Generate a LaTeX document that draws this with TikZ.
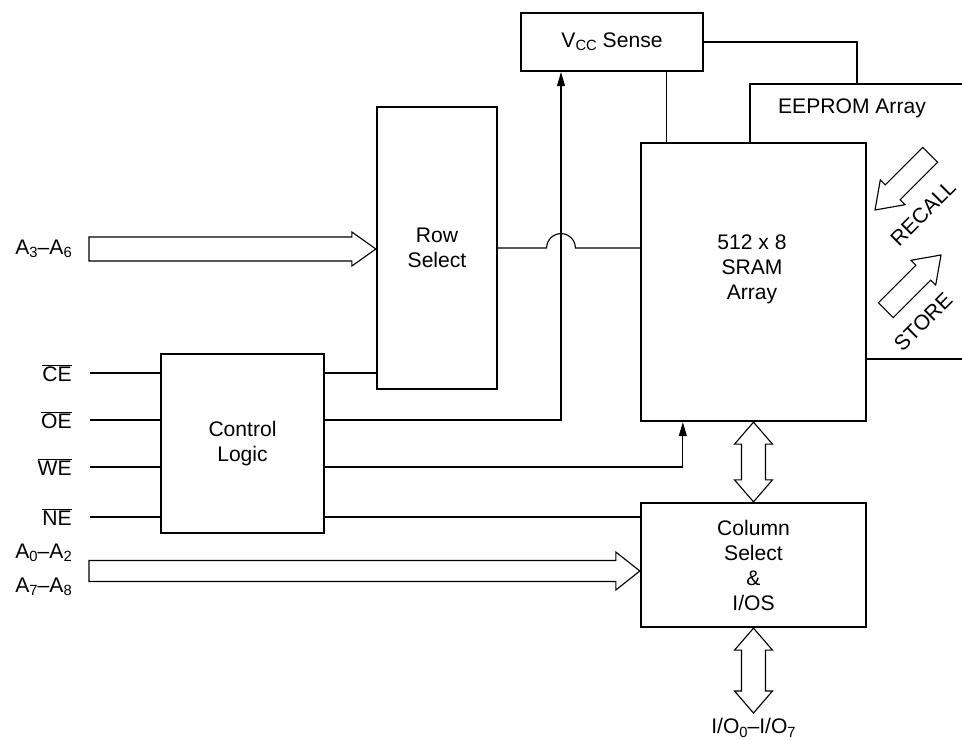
\documentclass[tikz,border=0pt]{standalone}
\usepackage{fontspec}
\setmainfont{Liberation Sans}
\usetikzlibrary{arrows.meta,positioning,calc}

\tikzset{
  every node/.style={font=\fontsize{15}{17.8}\selectfont},
  block/.style={rectangle,draw,line width=1.6pt,align=center},
  txt/.style={align=center,inner sep=0pt},
  pin/.style={anchor=east,inner sep=0pt},
  sig/.style={line width=0.8pt},
  sigarrow/.style={sig,-{Triangle[length=0.35cm,width=0.2cm]}},
  bus/.style={line width=0.8pt,fill=white,line join=miter},
  edge/.style={line width=1.6pt},
}

% subscript as set in the data sheet
\newcommand{\lo}[1]{\raisebox{-2.4pt}{\fontsize{10.5}{10.5}\selectfont #1}}
% hollow bus arrow to the right: start, tip, shaft half width, head half width
\newcommand{\hbus}[4]{%
  \draw[bus] ($(#1)+(0,-#3)$) -- ($(#2)+(-24,-#3)$) -- ($(#2)+(-24,-#4)$) -- (#2)
    -- ($(#2)+(-24,#4)$) -- ($(#2)+(-24,#3)$) -- ($(#1)+(0,#3)$) -- cycle;}
% hollow double headed bus arrow, top tip and bottom tip
\newcommand{\vbus}[2]{%
  \draw[bus] (#1) -- ($(#1)+(19,22)$) -- ($(#1)+(12,22)$) -- ($(#2)+(12,-22)$) -- ($(#2)+(19,-22)$) -- (#2)
    -- ($(#2)+(-19,-22)$) -- ($(#2)+(-12,-22)$) -- ($(#1)+(-12,22)$) -- ($(#1)+(-19,22)$) -- cycle;}
% hollow slanted arrow: tip, direction
\newcommand{\diagbus}[2]{%
  \draw[bus,shift={(#1)},rotate=#2] (0,0) -- (-25,17.5) -- (-25,10.5) -- (-78,10.5)
    -- (-78,-10.5) -- (-25,-10.5) -- (-25,-17.5) -- cycle;}

\begin{document}
\begin{tikzpicture}[x=0.025cm,y=-0.025cm]
    \useasboundingbox (0,0) rectangle (962,739);

    % Blocks
    \node[block,minimum width=4.55cm,minimum height=1.45cm] (vcc) at (612,42) {V\lo{CC} Sense};
    \node[block,minimum width=5.625cm,minimum height=6.95cm] (sram) at (753.5,282) {};
    \node[txt] (sramtext) at (752,269) {512 x 8\\SRAM\\Array};
    \node[block,minimum width=3cm,minimum height=7.05cm] (rowsel) at (437,248) {Row\\Select};
    \node[block,minimum width=4.075cm,minimum height=4.475cm] (ctrl) at (242.5,443.5) {Control\\Logic};
    \node[block,minimum width=5.625cm,minimum height=3.1cm] (colsel) at (753.5,565) {Column\\Select\\\&\\I/OS};

    % EEPROM array
    \coordinate (eetl) at (750,84);
    \coordinate (eetr) at (962,84);
    \coordinate (eebr) at (962,359);
    \draw[edge] (eetl |- sram.north) -- (eetl) -- (eetr);
    \draw[edge] (sram.east |- eebr) -- (eebr);
    \node[txt] (eetext) at (852,108) {EEPROM Array};

    % Store / recall
    \diagbus{875,210}{225}
    \diagbus{941,255}{45}
    \node[txt,rotate=45] (recall) at (923,213) {RECALL};
    \node[txt,rotate=45] (store) at (923,322) {STORE};

    % Pins
    \node[pin] (a36) at (72,249) {A\lo{3}--A\lo{6}};
    \node[pin] (ce) at (72,373) {$\overline{\mbox{CE}}$};
    \node[pin] (oe) at (72,420) {$\overline{\mbox{OE}}$};
    \node[pin] (we) at (72,467) {$\overline{\mbox{WE}}$};
    \node[pin] (ne) at (72,517) {$\overline{\mbox{NE}}$};
    \node[pin] (a02) at (72,553) {A\lo{0}--A\lo{2}};
    \node[pin] (a78) at (72,587) {A\lo{7}--A\lo{8}};
    \node[txt] (io) at (753.5,728) {I/O\lo{0}--I/O\lo{7}};

    % Control inputs
    \draw[sig] ($(ce.east)+(18,0)$) -- (ctrl.west |- ce.east);
    \draw[sig] ($(oe.east)+(18,0)$) -- (ctrl.west |- oe.east);
    \draw[sig] ($(we.east)+(18,0)$) -- (ctrl.west |- we.east);
    \draw[sig] ($(ne.east)+(18,0)$) -- (ctrl.west |- ne.east);

    % Control outputs
    \coordinate (hop) at (561,248);
    \draw[sig] (ctrl.east |- ce.east) -- (rowsel.west |- ce.east);
    \draw[sigarrow] (ctrl.east |- oe.east) -| (hop |- vcc.south);
    \draw[sigarrow] (ctrl.east |- we.east) -| ($(sram.south west)+(43,0)$);
    \draw[sig] (ctrl.east |- ne.east) -- (colsel.west |- ne.east);

    % Row select to SRAM, hopping over the sense line
    \draw[sig] (rowsel.east) -- ($(hop)+(-14.4,0)$) arc[start angle=180,end angle=0,radius=0.36cm]
        -- (sram.west |- rowsel.east);

    % Vcc sense
    \draw[sig] ($(vcc.south east)+(-38,0)$) coordinate (vs) -- (vs |- sram.north);
    \coordinate (eetap) at (857,84);
    \draw[sig] (vcc.east) -| (eetap);

    % Address buses
    \coordinate (a36in) at (89,249);
    \coordinate (a36tip) at (rowsel.west |- a36in);
    \hbus{a36in}{a36tip}{12}{17}
    \coordinate (a08in) at (89,571);
    \coordinate (a08tip) at (colsel.west |- a08in);
    \hbus{a08in}{a08tip}{10.5}{19}

    % Data buses
    \vbus{sram.south}{colsel.north}
    \coordinate (iobot) at (753.5,713);
    \vbus{colsel.south}{iobot}
\end{tikzpicture}
\end{document}
